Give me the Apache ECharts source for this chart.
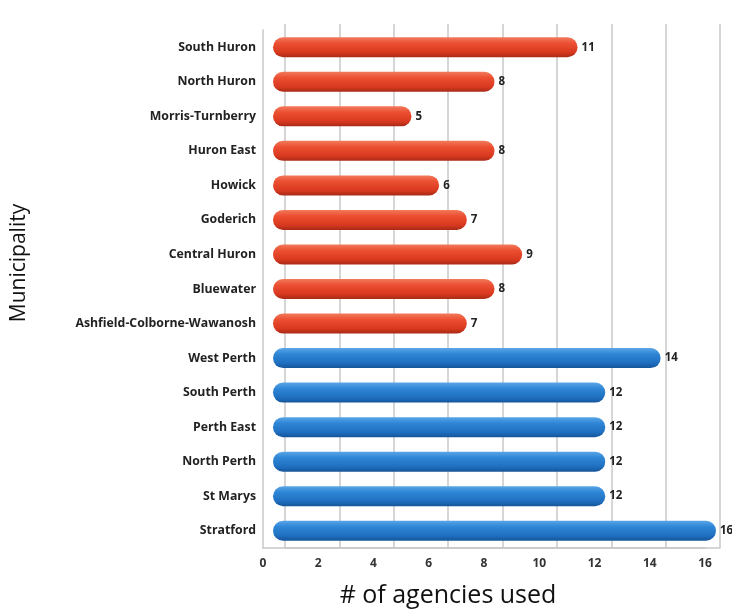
<!DOCTYPE html>
<html>
<head>
<meta charset="utf-8">
<script src="https://cdn.jsdelivr.net/npm/echarts@6/dist/echarts.min.js"></script>
<style>html,body{margin:0;padding:0;background:#fff}#c{width:732px;height:611px}</style>
</head>
<body>
<div id="c"></div>
<script>
const categories = ["South Huron","North Huron","Morris-Turnberry","Huron East","Howick","Goderich","Central Huron","Bluewater","Ashfield-Colborne-Wawanosh","West Perth","South Perth","Perth East","North Perth","St Marys","Stratford"];
const values = [11,8,5,8,6,7,9,8,7,14,12,12,12,12,16];
const county = ["Huron","Huron","Huron","Huron","Huron","Huron","Huron","Huron","Huron","Perth","Perth","Perth","Perth","Perth","Perth"];
const xTicks = [0,2,4,6,8,10,12,14,16];

const grad = (c1,c2,c3,c4) => new echarts.graphic.LinearGradient(0,0,0,1,[
  {offset:0,color:c1},{offset:0.3,color:c2},{offset:0.75,color:c3},{offset:1,color:c4}]);
const styles = {
  Huron: grad('#f27a5c','#ec4f32','#d9391f','#a82a17'),
  Perth: grad('#5aa6e8','#2f86d6','#1f6fc0','#15559a')
};

const chart = echarts.init(document.getElementById('c'));
const font = '"Open Sans", Lato, sans-serif';
chart.setOption({
  animation:false,
  grid:[
    {left:285, right:12, top:24, bottom:63},
    {left:263, right:27, top:30, bottom:63},
    {left:273, right:16, top:30, bottom:63}
  ],
  xAxis:[
    {gridIndex:0, type:'value', min:0, max:16, interval:2,
     axisLabel:{show:false}, axisTick:{show:false},
     axisLine:{show:true, lineStyle:{color:'#c8c8c8', width:1.5}},
     splitLine:{show:true, lineStyle:{color:'#c8c8c8', width:1.5}}},
    {gridIndex:1, type:'value', min:0, max:16, interval:2,
     axisLabel:{show:true, color:'#333', fontFamily:font, fontWeight:'bold', fontSize:12, margin:10,
       formatter:v => xTicks.includes(v) ? String(v) : ''},
     axisTick:{show:false},
     axisLine:{show:true, lineStyle:{color:'#c8c8c8', width:1.5}},
     splitLine:{show:false}},
    {gridIndex:2, type:'value', min:0, max:16, show:false}
  ],
  yAxis:[
    {gridIndex:0, type:'category', data:categories, inverse:true, show:false},
    {gridIndex:1, type:'category', data:categories, inverse:true,
     axisLabel:{show:false}, axisTick:{show:false},
     axisLine:{show:true, lineStyle:{color:'#c8c8c8', width:1.5}}},
    {gridIndex:2, type:'category', data:categories, inverse:true,
     axisLine:{show:false}, axisTick:{show:false},
     axisLabel:{color:'#222', fontFamily:font, fontWeight:'bold', fontSize:12.3, margin:17}}
  ],
  graphic:[
    {type:'text', x:448, y:596, style:{text:'# of agencies used', fill:'#111',
     font:'25px ' + font, textAlign:'center', textVerticalAlign:'middle'}},
    {type:'text', x:19, y:263, rotation:Math.PI/2, style:{text:'Municipality', fill:'#111',
     font:'21px ' + font, textAlign:'center', textVerticalAlign:'middle'}}
  ],
  series:[{
    type:'bar', xAxisIndex:2, yAxisIndex:2, barWidth:20,
    data: values.map((v,i) => ({value:v, itemStyle:{color:styles[county[i]]}})),
    itemStyle:{borderRadius:10},
    label:{show:true, position:'right', distance:4, color:'#222', fontFamily:font, fontWeight:'bold', fontSize:11.5}
  }]
});
</script>
</body>
</html>
